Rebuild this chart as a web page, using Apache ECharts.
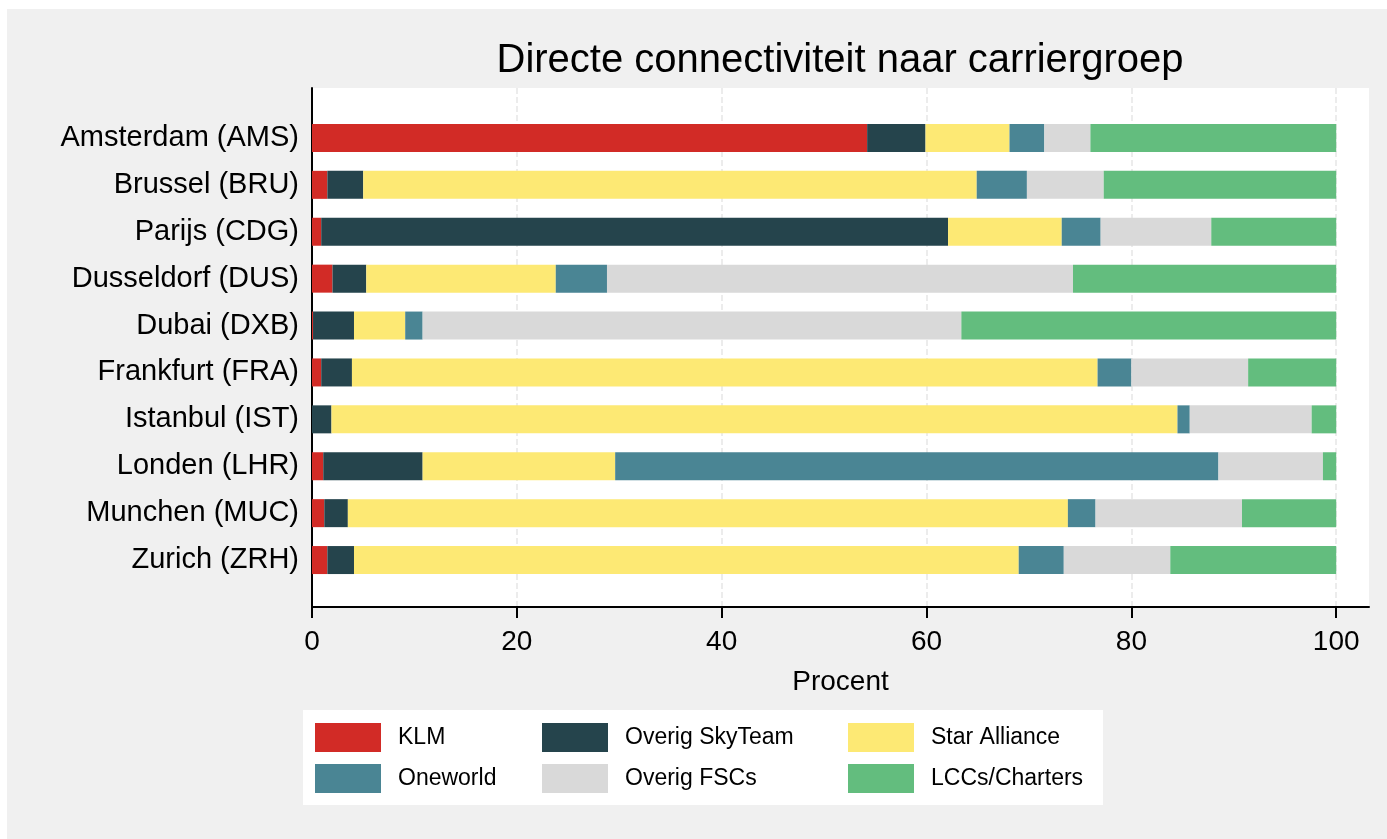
<!DOCTYPE html>
<html>
<head>
<meta charset="utf-8">
<script src="https://cdn.jsdelivr.net/npm/echarts@6/dist/echarts.min.js"></script>
<style>
  body { margin: 0; background: #fff; }
  #bg { position: absolute; left: 7px; top: 9px; width: 1380px; height: 830px; background: #f0f0f0; }
  #chart { position: absolute; left: 0; top: 0; width: 1387px; height: 839px; }
</style>
</head>
<body>
<div id="bg"></div>
<div id="chart"></div>
<script>
// airports, top to bottom
const airports = ['Amsterdam (AMS)', 'Brussel (BRU)', 'Parijs (CDG)', 'Dusseldorf (DUS)', 'Dubai (DXB)',
  'Frankfurt (FRA)', 'Istanbul (IST)', 'Londen (LHR)', 'Munchen (MUC)', 'Zurich (ZRH)'];

// share of direct connectivity (%) per carrier group
const klm      = [54.2, 1.5, 0.9, 2.0, 0.1, 0.9, 0.0, 1.1, 1.2, 1.5];
const skyteam  = [5.7, 3.5, 61.2, 3.3, 4.0, 3.0, 1.9, 9.7, 2.3, 2.6];
const star     = [8.2, 59.9, 11.1, 18.5, 5.0, 72.8, 82.6, 18.8, 70.3, 64.9];
const oneworld = [3.4, 4.9, 3.8, 5.0, 1.7, 3.3, 1.2, 58.9, 2.7, 4.4];
const fscs     = [4.5, 7.5, 10.8, 45.5, 52.6, 11.4, 11.9, 10.2, 14.3, 10.4];
const lccs     = [24.0, 22.7, 12.2, 25.7, 36.6, 8.6, 2.4, 1.3, 9.2, 16.2];

const xTicks = [0, 20, 40, 60, 80, 100];

const groups = [
  { name: 'KLM', data: klm, color: '#d22b26' },
  { name: 'Overig SkyTeam', data: skyteam, color: '#25444c' },
  { name: 'Star Alliance', data: star, color: '#fde974' },
  { name: 'Oneworld', data: oneworld, color: '#4a8594' },
  { name: 'Overig FSCs', data: fscs, color: '#d9d9d9' },
  { name: 'LCCs/Charters', data: lccs, color: '#63bd7e' }
];

const chart = echarts.init(document.getElementById('chart'));
const font = 'Liberation Sans, Arial, sans-serif';

const legendCol = (left, names) => ({
  orient: 'vertical',
  left: left,
  top: 723,
  padding: 0,
  itemWidth: 66,
  itemHeight: 29,
  itemGap: 12,
  icon: 'rect',
  selectedMode: false,
  data: names,
  textStyle: { fontFamily: font, fontSize: 23, color: '#000', padding: [0, 0, 0, 12] }
});

const option = {
  animation: false,
  textStyle: { fontFamily: font },
  title: {
    text: 'Directe connectiviteit naar carriergroep',
    left: 840,
    top: 41,
    padding: 0,
    textAlign: 'center',
    textStyle: { fontFamily: font, fontSize: 40, fontWeight: 'normal', color: '#000' }
  },
  graphic: [
    { type: 'rect', left: 303, top: 710, shape: { width: 800, height: 95 }, style: { fill: '#fff' }, silent: true }
  ],
  legend: [
    legendCol(315, ['KLM', 'Oneworld']),
    legendCol(542, ['Overig SkyTeam', 'Overig FSCs']),
    legendCol(848, ['Star Alliance', 'LCCs/Charters'])
  ],
  grid: [
    // frame of the plot region
    { left: 312, right: 18, top: 88, bottom: 232, show: true, backgroundColor: '#fff', borderWidth: 0 },
    // bars
    { left: 312, right: 18, top: 114.5, height: 469 }
  ],
  xAxis: [
    {
      gridIndex: 0,
      type: 'value',
      min: 0,
      max: 103.2,
      name: 'Procent',
      nameLocation: 'middle',
      nameGap: 61,
      nameTextStyle: { fontFamily: font, fontSize: 28, color: '#000' },
      axisLine: { lineStyle: { color: '#000', width: 2 } },
      axisTick: { show: true, length: 11, lineStyle: { color: '#000', width: 2 }, customValues: xTicks },
      axisLabel: { fontFamily: font, fontSize: 28, color: '#000', margin: 21, customValues: xTicks },
      splitLine: { show: true, lineStyle: { color: '#e6e6e6', type: 'dashed', width: 1.5 } }
    },
    { gridIndex: 1, type: 'value', min: 0, max: 103.2, show: false }
  ],
  yAxis: [
    {
      gridIndex: 0,
      type: 'value',
      axisLine: { show: true, lineStyle: { color: '#000', width: 2 } },
      axisTick: { show: false },
      axisLabel: { show: false },
      splitLine: { show: false }
    },
    {
      gridIndex: 1,
      type: 'category',
      inverse: true,
      data: airports,
      axisLine: { show: false },
      axisTick: { show: false },
      axisLabel: { fontFamily: font, fontSize: 29, color: '#000', margin: 13 }
    }
  ],
  series: groups.map(g => ({
    name: g.name,
    type: 'bar',
    stack: 'total',
    xAxisIndex: 1,
    yAxisIndex: 1,
    barWidth: 28,
    data: g.data,
    itemStyle: { color: g.color }
  }))
};

chart.setOption(option);
</script>
</body>
</html>
